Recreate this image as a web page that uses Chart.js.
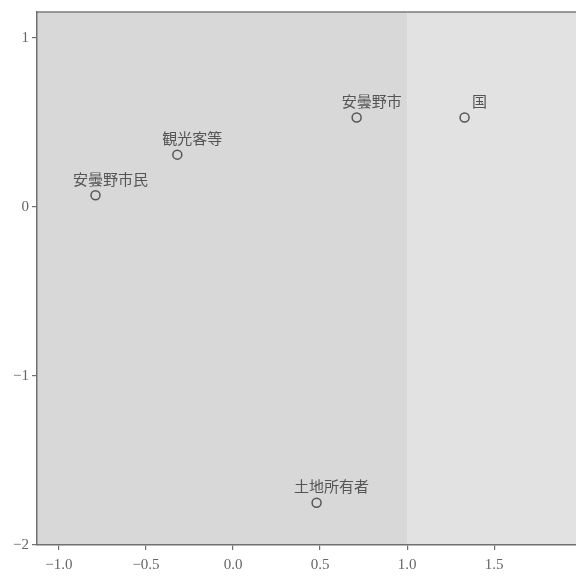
<!DOCTYPE html>
<html>
<head>
<meta charset="utf-8">
<script src="https://cdn.jsdelivr.net/npm/chart.js@4/dist/chart.umd.min.js"></script>
<style>
  html, body { margin: 0; padding: 0; background: #fff; overflow: hidden; }
  canvas { display: block; }
</style>
</head>
<body>
<canvas id="plot" width="576" height="577"></canvas>
<script>
// 布置の点（読み取り値）
const names = ['安曇野市民', '観光客等', '安曇野市', '国', '土地所有者'];
const xValues = [-0.79, -0.32, 0.71, 1.33, 0.48];
const yValues = [0.07, 0.31, 0.53, 0.53, -1.75];
const xTicks = [-1.0, -0.5, 0.0, 0.5, 1.0, 1.5];
const yTicks = [1, 0, -1, -2];

const points = names.map((n, i) => ({ x: xValues[i], y: yValues[i] }));

// 背景と上の枠線
const backdrop = {
  id: 'backdrop',
  beforeDraw(chart) {
    const { ctx, chartArea: a } = chart;
    const split = chart.scales.x.getPixelForValue(1.0);
    ctx.save();
    ctx.fillStyle = '#d8d8d8';
    ctx.fillRect(a.left, a.top, split - a.left, a.bottom - a.top);
    ctx.fillStyle = '#e2e2e2';
    ctx.fillRect(split, a.top, a.right - split, a.bottom - a.top);
    ctx.strokeStyle = '#7a7a7a';
    ctx.lineWidth = 1.5;
    ctx.beginPath();
    ctx.moveTo(a.left, a.top);
    ctx.lineTo(a.right, a.top);
    ctx.stroke();
    ctx.restore();
  }
};

// 点のラベル
const pointLabels = {
  id: 'pointLabels',
  afterDatasetsDraw(chart) {
    const { ctx } = chart;
    const meta = chart.getDatasetMeta(0);
    ctx.save();
    ctx.font = '15px "Noto Sans CJK JP"';
    ctx.fillStyle = '#555';
    ctx.textAlign = 'center';
    ctx.textBaseline = 'middle';
    meta.data.forEach((el, i) => {
      ctx.fillText(names[i], el.x + 15, el.y - 16);
    });
    ctx.restore();
  }
};

const tickFont = { family: '"Liberation Serif", serif', size: 15 };

new Chart(document.getElementById('plot'), {
  type: 'scatter',
  data: {
    datasets: [{
      data: points,
      pointStyle: 'circle',
      pointRadius: 4.5,
      pointBorderWidth: 1.5,
      pointBorderColor: '#555',
      pointBackgroundColor: 'rgba(0,0,0,0)'
    }]
  },
  options: {
    responsive: false,
    animation: false,
    devicePixelRatio: 1,
    layout: { autoPadding: false, padding: { top: 12, right: 0, left: 0, bottom: 0 } },
    plugins: { legend: { display: false }, tooltip: { enabled: false } },
    scales: {
      x: {
        type: 'linear',
        min: -1.126,
        max: 1.97,
        afterBuildTicks: s => { s.ticks = xTicks.map(v => ({ value: v })); },
        afterFit: s => { s.height = 32; s.paddingLeft = 0; s.paddingRight = 0; },
        grid: { drawOnChartArea: false, drawTicks: true, tickLength: 5, color: '#707070', lineWidth: 1.2 },
        border: { display: true, color: '#707070', width: 1.5 },
        ticks: {
          font: tickFont,
          color: '#666',
          padding: 6,
          maxRotation: 0,
          callback: v => v.toFixed(1).replace('-', '\u2212')
        }
      },
      y: {
        type: 'linear',
        min: -2,
        max: 1.154,
        afterBuildTicks: s => { s.ticks = yTicks.map(v => ({ value: v })); },
        afterFit: s => { s.width = 37; s.paddingTop = 0; s.paddingBottom = 0; },
        grid: { drawOnChartArea: false, drawTicks: true, tickLength: 5, color: '#707070', lineWidth: 1.2 },
        border: { display: true, color: '#707070', width: 1.5 },
        ticks: {
          font: tickFont,
          color: '#666',
          padding: 3,
          callback: v => String(v).replace('-', '\u2212')
        }
      }
    }
  },
  plugins: [backdrop, pointLabels]
});
</script>
</body>
</html>
